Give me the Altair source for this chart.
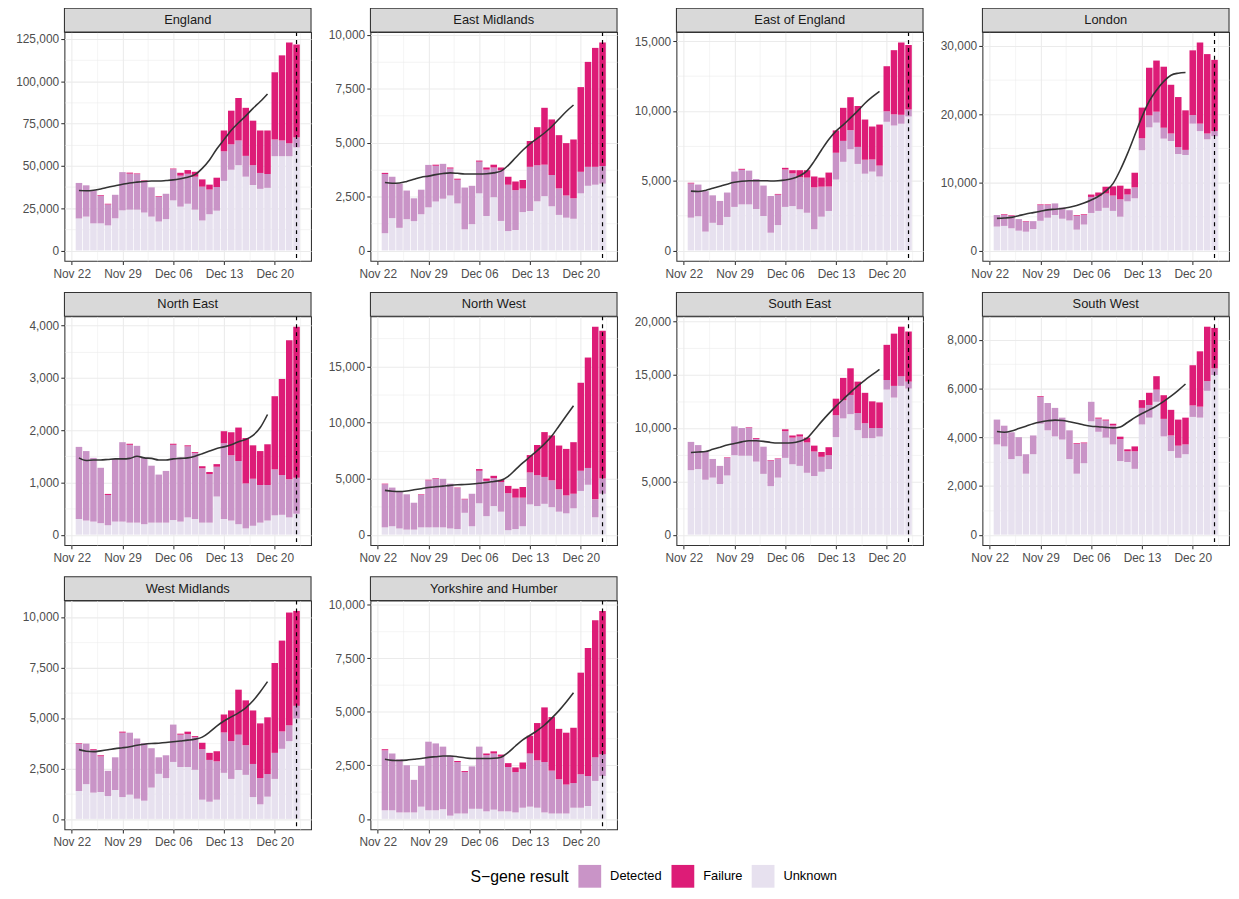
import altair as alt
import pandas as pd

FONT = "Liberation Sans"
FIRST_DAY = "2020-11-23"
REPORT_DAY = "2020-12-23"

REGIONS = ["England", "East Midlands", "East of England", "London", "North East",
           "North West", "South East", "South West", "West Midlands", "Yorkshire and Humber"]
Y_STEPS = [25000, 2500, 5000, 10000, 1000, 5000, 5000, 2000, 2500, 2500]
RESULTS = ["Detected", "Failure", "Unknown"]
COLORS = ["#C994C7", "#DD1C77", "#E7E1EF"]
STACK_ORDER = ["Unknown", "Detected", "Failure"]

ENGLAND_UNKNOWN = [18900, 20000, 16000, 16000, 14800, 19000, 23700, 24100, 24100, 22400, 20000, 17100, 18500, 29600, 25900, 27600, 24100, 17700, 21400, 23500, 41100, 47700, 50400, 43600, 38700, 36400, 37000, 55700, 55700, 55700, 60900]
ENGLAND_DETECTED = [21000, 18500, 19500, 16300, 12400, 13900, 22600, 21300, 21000, 18600, 17300, 14500, 15000, 18400, 18300, 17700, 19500, 20000, 14600, 14000, 17500, 15000, 14600, 12300, 11700, 9400, 8200, 9900, 9300, 7600, 5900]
ENGLAND_FAILURE = [0, 0, 0, 400, 400, 0, 0, 600, 400, 400, 0, 400, 0, 400, 1700, 2200, 2900, 4300, 2900, 5500, 12300, 19900, 25100, 28400, 26300, 25100, 25700, 39700, 50300, 59600, 54900]
ENGLAND_TREND = [35400, 35300, 35600, 36300, 37300, 38200, 39100, 39900, 40400, 40800, 41000, 41000, 41300, 41700, 42400, 43300, 44800, 48500, 53500, 60000, 65500, 71000, 75500, 79500, 84000, 88000, 92500]

EM_UNKNOWN = [800, 1500, 1050, 1450, 1360, 1680, 2000, 2270, 2400, 2550, 2180, 980, 1220, 2650, 1600, 2470, 1370, 900, 950, 1780, 1830, 2280, 2520, 2050, 1650, 1520, 1470, 2650, 3000, 3050, 3100]
EM_DETECTED = [2750, 1920, 2050, 1330, 1060, 1140, 1970, 1660, 1620, 1250, 1100, 1940, 1780, 1470, 2150, 1380, 2350, 2150, 1850, 1090, 2050, 1670, 1460, 1450, 1230, 1030, 950, 1000, 880, 830, 820]
EM_FAILURE = [50, 0, 0, 0, 0, 0, 0, 50, 0, 50, 50, 0, 0, 50, 100, 130, 130, 370, 400, 400, 1200, 1770, 2640, 2580, 2470, 2430, 2730, 3930, 4870, 5520, 5730]
EM_TREND = [3150, 3120, 3130, 3200, 3300, 3400, 3450, 3520, 3570, 3600, 3580, 3550, 3550, 3550, 3560, 3600, 3680, 3950, 4300, 4650, 4950, 5200, 5450, 5750, 6100, 6450, 6750]

EOE_UNKNOWN = [2350, 2450, 1350, 1980, 1820, 2400, 3120, 3300, 3300, 2970, 2470, 1270, 1820, 3120, 3180, 2950, 2700, 1520, 2420, 2830, 5080, 6350, 7250, 6200, 5500, 5650, 5300, 9220, 8950, 9080, 9600]
EOE_DETECTED = [2450, 2270, 2900, 1970, 1730, 1750, 2530, 2480, 2420, 2150, 2180, 2630, 2180, 2680, 2340, 2300, 2520, 3000, 2150, 1750, 1920, 1500, 1370, 1220, 1000, 870, 780, 750, 800, 640, 500]
EOE_FAILURE = [50, 0, 0, 0, 0, 0, 0, 70, 0, 0, 0, 0, 50, 120, 230, 500, 530, 780, 650, 1000, 1600, 2370, 2360, 2930, 2880, 2360, 2940, 3230, 4600, 5180, 4620]
EOE_TREND = [4250, 4220, 4300, 4450, 4600, 4750, 4880, 4960, 5000, 5000, 5000, 4980, 5000, 5050, 5150, 5350, 5700, 6400, 7200, 7950, 8550, 9000, 9500, 10000, 10550, 11000, 11400]

LONDON_UNKNOWN = [3500, 3600, 3250, 2900, 2750, 3150, 4350, 4800, 5200, 4650, 4400, 3050, 3800, 5500, 5800, 6250, 5800, 4950, 7200, 7650, 14700, 18050, 18750, 16400, 16050, 14150, 14000, 18600, 17500, 16300, 16750]
LONDON_DETECTED = [1700, 1600, 1800, 1700, 1470, 1150, 2300, 1850, 1700, 1650, 1500, 2050, 1400, 2350, 2150, 2100, 2250, 2550, 1000, 1600, 1750, 1750, 1600, 1600, 1100, 1000, 750, 1250, 1100, 850, 750]
LONDON_FAILURE = [0, 100, 100, 0, 80, 0, 100, 100, 0, 0, 0, 100, 100, 350, 550, 1000, 1350, 2000, 850, 2150, 4500, 7000, 7500, 8950, 7150, 7350, 5800, 9500, 11900, 11650, 10450]
LONDON_TREND = [4700, 4750, 4850, 5100, 5350, 5550, 5750, 5950, 6050, 6150, 6350, 6600, 6950, 7400, 7950, 8700, 9800, 11800, 14200, 16900, 19600, 21900, 23500, 24800, 25700, 26000, 26100]

NE_UNKNOWN = [300, 270, 250, 220, 180, 250, 250, 230, 230, 200, 230, 230, 230, 280, 250, 330, 300, 230, 230, 730, 300, 270, 200, 120, 170, 230, 270, 370, 380, 330, 400]
NE_DETECTED = [1380, 1330, 1220, 1060, 580, 1200, 1520, 1490, 1470, 1270, 1090, 920, 990, 1440, 1230, 1360, 1260, 1040, 930, 570, 1450, 1250, 1210, 860, 900, 720, 680, 880, 760, 730, 690]
NE_FAILURE = [0, 0, 0, 0, 20, 0, 0, 20, 0, 0, 0, 0, 0, 20, 0, 20, 20, 40, 40, 50, 230, 440, 640, 870, 640, 650, 780, 1400, 1840, 2660, 2890]
NE_TREND = [1470, 1420, 1430, 1430, 1440, 1450, 1450, 1460, 1500, 1470, 1460, 1430, 1430, 1450, 1460, 1470, 1500, 1550, 1600, 1650, 1680, 1720, 1780, 1820, 1900, 2050, 2300]

NW_UNKNOWN = [650, 750, 550, 450, 450, 650, 650, 650, 650, 550, 500, 1950, 750, 2800, 1650, 2550, 2050, 400, 500, 750, 2700, 2550, 2750, 2450, 2050, 1900, 2350, 3900, 4450, 1550, 3650]
NW_DETECTED = [3850, 3450, 3350, 3150, 2400, 2900, 4200, 4350, 4330, 4000, 3650, 1200, 2900, 2900, 3150, 2500, 2650, 3300, 2800, 2550, 2850, 2750, 2400, 2400, 2000, 1600, 1300, 1800, 1500, 1600, 1350]
NW_FAILURE = [50, 0, 0, 0, 0, 50, 50, 50, 0, 0, 50, 50, 0, 150, 200, 200, 200, 650, 800, 950, 1550, 2700, 4000, 4000, 3900, 4150, 4600, 7850, 9850, 15400, 13200]
NW_TREND = [3950, 3870, 3850, 3900, 4000, 4100, 4200, 4270, 4330, 4400, 4450, 4480, 4520, 4580, 4650, 4750, 4850, 5200, 5800, 6400, 6950, 7500, 8100, 8800, 9700, 10600, 11500]

SE_UNKNOWN = [6050, 6150, 5150, 5350, 4750, 5550, 7450, 7400, 7400, 6850, 5700, 4550, 5350, 7200, 6600, 6450, 5800, 5500, 5900, 6150, 9150, 10900, 11300, 9800, 9050, 9050, 9200, 13600, 12850, 13950, 13700]
SE_DETECTED = [2650, 2250, 2650, 1750, 1700, 1650, 2700, 2600, 2630, 2120, 2550, 2400, 1750, 2500, 2500, 2750, 2850, 2300, 1400, 1300, 2050, 1700, 1800, 1600, 1400, 950, 800, 900, 1100, 900, 650]
SE_FAILURE = [0, 0, 0, 0, 0, 50, 0, 0, 50, 80, 0, 50, 50, 180, 200, 200, 450, 550, 450, 750, 1550, 2100, 2500, 2950, 2850, 2500, 2400, 3300, 4900, 4650, 4700]
SE_TREND = [7700, 7750, 7800, 8000, 8200, 8400, 8550, 8700, 8800, 8800, 8750, 8650, 8600, 8600, 8620, 8750, 9050, 9800, 10600, 11350, 12050, 12700, 13350, 13950, 14500, 15000, 15500]

SW_UNKNOWN = [3700, 3620, 3100, 3220, 2500, 3300, 4550, 4280, 4030, 3900, 3100, 2500, 2930, 4650, 4220, 3980, 3700, 3020, 2980, 2700, 4520, 4800, 5450, 4030, 3430, 3150, 3300, 4830, 4800, 5900, 6550]
SW_DETECTED = [1020, 850, 1100, 780, 800, 770, 1100, 1120, 1170, 900, 1180, 1220, 820, 800, 540, 700, 780, 900, 440, 720, 680, 520, 500, 720, 640, 500, 400, 470, 450, 400, 270]
SW_FAILURE = [0, 0, 0, 0, 0, 0, 30, 0, 0, 0, 0, 30, 30, 0, 40, 40, 70, 100, 80, 200, 320, 500, 550, 970, 1050, 1070, 1100, 1650, 2270, 2230, 1660]
SW_TREND = [4230, 4200, 4250, 4350, 4450, 4550, 4620, 4670, 4700, 4680, 4630, 4570, 4500, 4450, 4430, 4400, 4380, 4420, 4600, 4800, 4970, 5120, 5280, 5470, 5680, 5920, 6180]

WM_UNKNOWN = [1380, 1720, 1300, 1330, 1130, 1430, 1080, 1200, 1000, 900, 1550, 2230, 2020, 2820, 2570, 2570, 2430, 950, 850, 950, 2280, 1980, 2420, 2180, 1080, 720, 1100, 1980, 3470, 3850, 4970]
WM_DETECTED = [2340, 2010, 2100, 1770, 1250, 1620, 3190, 3070, 2980, 2850, 1950, 820, 1130, 1850, 1600, 1630, 1620, 2500, 2070, 1900, 2000, 1870, 1750, 1470, 1640, 1300, 1120, 1290, 860, 780, 630]
WM_FAILURE = [30, 0, 50, 50, 0, 0, 50, 0, 0, 0, 0, 0, 0, 0, 50, 120, 50, 320, 350, 500, 890, 1520, 2230, 2220, 2650, 2710, 2810, 4450, 4500, 5590, 4700]
WM_TREND = [3430, 3350, 3330, 3370, 3420, 3480, 3520, 3570, 3650, 3700, 3730, 3750, 3780, 3820, 3860, 3900, 3950, 4050, 4300, 4600, 4850, 5050, 5250, 5500, 5850, 6300, 6800]

YH_UNKNOWN = [400, 400, 300, 300, 300, 570, 400, 400, 450, 150, 250, 250, 470, 470, 350, 430, 350, 350, 300, 520, 570, 520, 300, 250, 250, 250, 520, 520, 600, 1770, 2000]
YH_DETECTED = [2800, 2650, 2480, 2200, 1520, 1900, 3200, 3120, 2920, 2800, 2400, 1930, 1980, 2900, 2620, 2620, 2550, 2070, 1880, 1810, 2480, 2210, 2350, 2000, 1600, 1350, 1150, 1560, 1400, 1110, 1020]
YH_FAILURE = [50, 0, 0, 0, 0, 0, 0, 0, 0, 0, 50, 50, 0, 0, 80, 100, 100, 180, 220, 300, 830, 1740, 2550, 2500, 2350, 2420, 2580, 4740, 5970, 6390, 6680]
YH_TREND = [2780, 2730, 2720, 2740, 2780, 2820, 2870, 2900, 2930, 2930, 2900, 2850, 2820, 2820, 2820, 2830, 2880, 3100, 3400, 3680, 3900, 4120, 4380, 4700, 5050, 5450, 5880]

SERIES = [
    (ENGLAND_UNKNOWN, ENGLAND_DETECTED, ENGLAND_FAILURE, ENGLAND_TREND),
    (EM_UNKNOWN, EM_DETECTED, EM_FAILURE, EM_TREND),
    (EOE_UNKNOWN, EOE_DETECTED, EOE_FAILURE, EOE_TREND),
    (LONDON_UNKNOWN, LONDON_DETECTED, LONDON_FAILURE, LONDON_TREND),
    (NE_UNKNOWN, NE_DETECTED, NE_FAILURE, NE_TREND),
    (NW_UNKNOWN, NW_DETECTED, NW_FAILURE, NW_TREND),
    (SE_UNKNOWN, SE_DETECTED, SE_FAILURE, SE_TREND),
    (SW_UNKNOWN, SW_DETECTED, SW_FAILURE, SW_TREND),
    (WM_UNKNOWN, WM_DETECTED, WM_FAILURE, WM_TREND),
    (YH_UNKNOWN, YH_DETECTED, YH_FAILURE, YH_TREND),
]

PANEL_W, PANEL_H, STRIP_H = 249, 231, 24

X_TICKS = [
    alt.DateTime(year=2020, month=11, date=22),
    alt.DateTime(year=2020, month=11, date=25, hours=12),
    alt.DateTime(year=2020, month=11, date=29),
    alt.DateTime(year=2020, month=12, date=2, hours=12),
    alt.DateTime(year=2020, month=12, date=6),
    alt.DateTime(year=2020, month=12, date=9, hours=12),
    alt.DateTime(year=2020, month=12, date=13),
    alt.DateTime(year=2020, month=12, date=16, hours=12),
    alt.DateTime(year=2020, month=12, date=20),
    alt.DateTime(year=2020, month=12, date=23, hours=12),
]
X_DOMAIN = [alt.DateTime(year=2020, month=11, date=21),
            alt.DateTime(year=2020, month=12, date=25)]

MAJOR_X = "hours(datum.value) == 0"
XSCALE = alt.Scale(domain=X_DOMAIN)
XAXIS = alt.Axis(
    values=X_TICKS,
    labelExpr=f"{MAJOR_X} ? timeFormat(datum.value, '%b %d') : ''",
    gridWidth={"condition": {"test": MAJOR_X, "value": 1.07}, "value": 0.55},
    tickOpacity={"condition": {"test": MAJOR_X, "value": 1}, "value": 0},
    labelOverlap=False,
    labelFlush=False,
    labelPadding=4,
)


def build_panel(name, unk, det, fail, trend, step):
    dates = pd.date_range(FIRST_DAY, periods=len(unk), freq="D")
    half = pd.Timedelta(hours=10.8)
    counts = {"Unknown": unk, "Detected": det, "Failure": fail}
    rows = []
    for i, d in enumerate(dates):
        base = 0
        for res in STACK_ORDER:
            n = counts[res][i]
            rows.append({"start": d - half, "end": d + half, "result": res,
                         "n": n, "y0": base, "y1": base + n})
            base += n
    bars_df = pd.DataFrame(rows)
    trend_df = pd.DataFrame({
        "date": pd.date_range(FIRST_DAY, periods=len(trend), freq="D"),
        "value": trend,
    })
    rule_df = pd.DataFrame({"date": [pd.Timestamp(REPORT_DAY)]})
    strip_df = pd.DataFrame({"region": [name]})

    top = max(a + b + c for a, b, c in zip(unk, det, fail))
    lo, hi = -0.05 * top, 1.05 * top
    yvals = []
    v = 0.0
    while v <= hi:
        yvals.append(v)
        v += step / 2
    major_y = f"datum.value % {step} == 0"
    yaxis = alt.Axis(
        values=yvals,
        labelExpr=f"{major_y} ? format(datum.value, ',') : ''",
        gridWidth={"condition": {"test": major_y, "value": 1.07}, "value": 0.55},
        tickOpacity={"condition": {"test": major_y, "value": 1}, "value": 0},
        labelOverlap=False,
    )
    yscale = alt.Scale(domain=[lo, hi], nice=False, zero=False)

    bars = alt.Chart(bars_df).mark_bar().encode(
        x=alt.X("start:T", scale=XSCALE, axis=XAXIS, title=None),
        x2="end:T",
        y=alt.Y("y1:Q", scale=yscale, axis=yaxis, title=None),
        y2="y0:Q",
        color=alt.Color("result:N", scale=alt.Scale(domain=RESULTS, range=COLORS),
                        legend=alt.Legend(title="S\u2212gene result")),
    )
    line = alt.Chart(trend_df).mark_line(color="#333333", strokeWidth=1.6,
                                         interpolate="monotone").encode(
        x=alt.X("date:T", scale=XSCALE, axis=XAXIS, title=None),
        y=alt.Y("value:Q", scale=yscale, axis=yaxis, title=None),
    )
    rule = alt.Chart(rule_df).mark_rule(color="black", strokeDash=[4, 4],
                                        strokeWidth=1.2).encode(
        x=alt.X("date:T", scale=XSCALE, axis=XAXIS, title=None),
    )
    strip = alt.Chart(strip_df).mark_rect(fill="#D9D9D9", stroke="#333333",
                                          strokeWidth=1.07).encode(
        x=alt.value(0), x2=alt.value(PANEL_W),
        y=alt.value(-STRIP_H), y2=alt.value(0),
    )
    label = alt.Chart(strip_df).mark_text(font=FONT, fontSize=13, color="#1A1A1A",
                                          baseline="middle", align="center").encode(
        x=alt.value(PANEL_W / 2), y=alt.value(-STRIP_H / 2), text="region:N",
    )
    return alt.layer(bars, line, rule, strip, label).properties(width=PANEL_W, height=PANEL_H)


panels = [build_panel(REGIONS[k], *SERIES[k], Y_STEPS[k]) for k in range(len(REGIONS))]

chart = alt.vconcat(
    alt.hconcat(*panels[0:4], spacing=7),
    alt.hconcat(*panels[4:8], spacing=7),
    alt.hconcat(*panels[8:10], spacing=7),
    spacing=9,
).properties(
    padding={"left": 6, "top": -6, "right": 0, "bottom": 0},
).configure_view(
    stroke="#333333", strokeWidth=1.07,
).configure_axis(
    domain=False, labelFont=FONT, labelFontSize=12, labelColor="#4D4D4D",
    tickColor="#333333", tickSize=3.7, tickWidth=1.07, gridColor="#EBEBEB",
    labelPadding=2.2,
).configure_axisY(
    minExtent=50, maxExtent=50,
).configure_axisX(
    minExtent=20, maxExtent=20,
).configure_legend(
    orient="none", legendX=410, legendY=841, direction="horizontal",
    titleOrient="left", symbolType="square", symbolSize=529, symbolStrokeWidth=0,
    labelFont=FONT, labelFontSize=13, labelColor="black",
    titleFont=FONT, titleFontSize=16, titleFontWeight="normal", titleColor="black",
    columnPadding=9, labelOffset=9, titlePadding=9, padding=0,
)

chart.save("out.html", embed_options={"renderer": "svg", "actions": False})
